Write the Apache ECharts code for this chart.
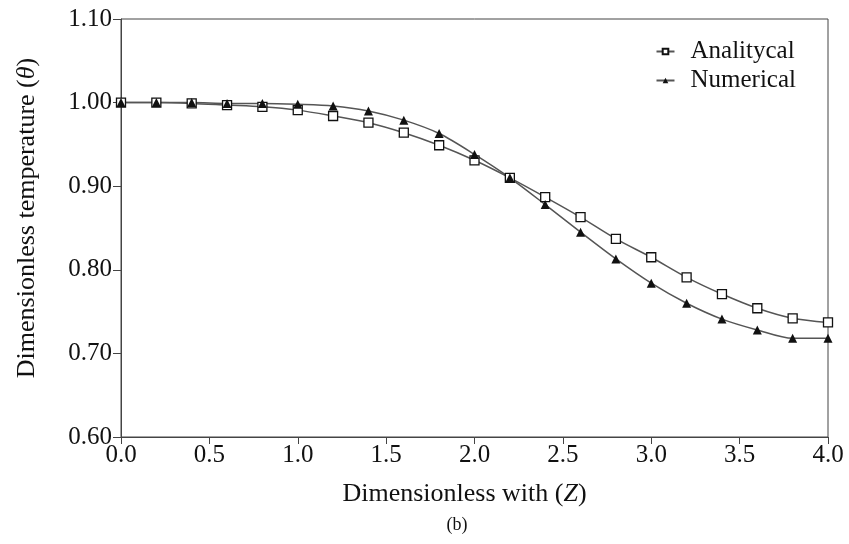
<!DOCTYPE html>
<html>
<head>
<meta charset="utf-8">
<script src="https://cdn.jsdelivr.net/npm/echarts@6/dist/echarts.min.js"></script>
<style>
  html, body { margin: 0; padding: 0; background: #fff; }
  #chart { width: 849px; height: 544px; }
</style>
</head>
<body>
<div id="chart"></div>
<script>
// 数据
let zData = [0.0, 0.2, 0.4, 0.6, 0.8, 1.0, 1.2, 1.4, 1.6, 1.8, 2.0, 2.2, 2.4, 2.6, 2.8, 3.0, 3.2, 3.4, 3.6, 3.8, 4.0];
let analyticalData = [1.000, 1.000, 0.999, 0.997, 0.995, 0.991, 0.984, 0.976, 0.964, 0.949, 0.931, 0.910, 0.887, 0.863, 0.837, 0.815, 0.791, 0.771, 0.754, 0.742, 0.737];
let numericalData = [1.000, 1.000, 1.000, 0.999, 0.999, 0.998, 0.996, 0.990, 0.979, 0.963, 0.938, 0.910, 0.878, 0.845, 0.813, 0.784, 0.760, 0.741, 0.728, 0.718, 0.718];
let seriesNames = ["Analitycal", "Numerical"];

function pairs(ys){
    let out = [];
    for(let i = 0; i < zData.length; i++){
        out.push([zData[i], ys[i]]);
    }
    return out;
}

let font = "'Liberation Serif', 'DejaVu Serif', serif";
let chart = echarts.init(document.getElementById("chart"));
let opts = {
    animation: false,
    backgroundColor: "#fff",
    textStyle: { fontFamily: font },
    grid: {
        left: 121,
        right: 21,
        top: 19,
        bottom: 107,
        show: true,
        borderColor: "#444",
        borderWidth: 1
    },
    title: {
        text: "(b)",
        left: 452,
        top: 511,
        textAlign: "center",
        textStyle: { fontFamily: font, fontSize: 18, fontWeight: "normal", color: "#111" }
    },
    legend: {
        data: seriesNames,
        orient: "vertical",
        right: 48,
        top: 34,
        itemWidth: 18,
        itemHeight: 7,
        itemGap: 4,
        textStyle: { fontFamily: font, fontSize: 25, color: "#111", padding: [0, 0, 0, 11] }
    },
    xAxis: {
        type: "value",
        min: 0,
        max: 4,
        interval: 0.5,
        name: "Dimensionless with ({i|Z})",
        nameLocation: "middle",
        nameGap: 44,
        nameTextStyle: {
            fontFamily: font, fontSize: 26, color: "#111",
            padding: [0, 20, 0, 0],
            rich: { i: { fontStyle: "italic", fontFamily: font, fontSize: 26, color: "#111" } }
        },
        axisLine: { lineStyle: { color: "#444", width: 1 } },
        axisTick: { inside: false, length: 7, lineStyle: { color: "#444" } },
        axisLabel: {
            margin: 6, fontFamily: font, fontSize: 25, color: "#111",
            formatter: function(v){ return v.toFixed(1); }
        },
        splitLine: { show: false }
    },
    yAxis: {
        type: "value",
        min: 0.6,
        max: 1.1,
        interval: 0.1,
        name: "Dimensionless temperature ({i|θ})",
        nameLocation: "middle",
        nameGap: 81,
        nameTextStyle: {
            fontFamily: font, fontSize: 26, color: "#111",
            padding: [0, 0, 0, 20],
            rich: { i: { fontStyle: "italic", fontFamily: font, fontSize: 26, color: "#111" } }
        },
        axisLine: { lineStyle: { color: "#444", width: 1 } },
        axisTick: { inside: false, length: 8, lineStyle: { color: "#444" } },
        axisLabel: {
            margin: 9, fontFamily: font, fontSize: 25, color: "#111",
            formatter: function(v){ return v.toFixed(2); }
        },
        splitLine: { show: false }
    },
    series: [
        {
            name: seriesNames[0],
            type: "line",
            smooth: 0.3,
            data: pairs(analyticalData),
            symbol: "rect",
            symbolSize: 9,
            lineStyle: { color: "#555", width: 1.5 },
            itemStyle: { color: "#fff", borderColor: "#111", borderWidth: 1.3 }
        },
        {
            name: seriesNames[1],
            type: "line",
            smooth: 0.3,
            data: pairs(numericalData),
            symbol: "triangle",
            symbolSize: 9,
            lineStyle: { color: "#555", width: 1.5 },
            itemStyle: { color: "#111", borderColor: "#111", borderWidth: 0 }
        }
    ]
};
chart.setOption(opts);
</script>
</body>
</html>
